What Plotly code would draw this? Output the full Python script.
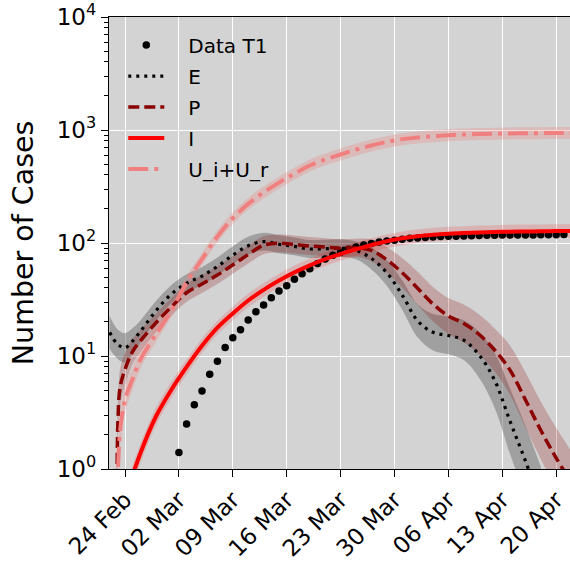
import plotly.graph_objects as go
import pandas as pd

# ---------------- data ----------------
XTICK_DATES = ["2020-02-24", "2020-03-02", "2020-03-09", "2020-03-16", "2020-03-23",
               "2020-03-30", "2020-04-06", "2020-04-13", "2020-04-20"]
X_RANGE = ["2020-02-21 22:05", "2020-04-21 19:00"]
YTICK_VALS = [1, 10, 100, 1000, 10000]
YTICK_TEXT = ["10<sup>0</sup>", "10<sup>1</sup>", "10<sup>2</sup>", "10<sup>3</sup>", "10<sup>4</sup>"]

MAR_ODD = ["2020-03-%02d" % d for d in range(1, 32, 2)]
APR_EVEN = ["2020-04-%02d" % d for d in range(2, 23, 2)]

# Data T1 (daily from 02 Mar)
T1_start = "2020-03-02"
T1_vals = [1.4, 2.5, 3.7, 4.9, 6.9, 9.0, 11.9, 14.5, 17.1, 20.8,
           24.7, 28.3, 32.8, 37.6, 41.9, 47.7, 53.5, 59.3, 66, 72,
           78, 83, 88, 92, 96, 99, 102, 104, 106, 108,
           110, 111, 112, 113, 114, 114.5, 115, 115.5, 116, 116.5,
           117, 117, 117.5, 117.5, 118, 118, 118, 118.5, 118.5, 118.5, 119]

# E
E_dates = ["2020-02-22", "2020-02-23", "2020-02-24", "2020-02-25", "2020-02-26", "2020-02-28"] \
    + MAR_ODD + APR_EVEN[:9]
E_vals = [16.2, 12.8, 11.8, 13.6, 16.5, 25,
          35.2, 44, 51, 62, 78, 94.5, 102.8, 97.5, 93.3, 88.5, 89, 90, 86, 73, 54.5, 34.7,
          20.5, 16.2, 15.2, 13.8, 10.2, 6.1, 2.65, 1.18, 0.5]
E_band = [1.4, 1.35, 1.35, 1.3, 1.25, 1.22,
          1.2, 1.2, 1.2, 1.2, 1.2, 1.2, 1.2, 1.2, 1.2, 1.2, 1.2, 1.2, 1.2, 1.25, 1.3, 1.35,
          1.4, 1.45, 1.47, 1.5, 1.6, 1.75, 1.95, 2.05, 2.1]

# P
P_dates = ["2020-02-22 22:30", "2020-02-23 02:00", "2020-02-23 09:00",
           "2020-02-24", "2020-02-25", "2020-02-26", "2020-02-28"] + MAR_ODD + APR_EVEN
P_vals = [0.3, 2.7, 5.35, 7.6, 11, 13.6, 19.6,
          27.1, 36.3, 43.4, 52, 64, 79, 95.5, 99.6, 97, 94, 92, 90, 91, 86, 71, 54.5,
          39.8, 28.8, 22.6, 19.4, 15.5, 11.3, 7.5, 4.1, 2.2, 1.25, 0.75]
P_band = [1.5, 1.5, 1.45, 1.4, 1.3, 1.25, 1.2,
          1.2, 1.2, 1.2, 1.2, 1.2, 1.2, 1.2, 1.2, 1.2, 1.2, 1.2, 1.2, 1.2, 1.25, 1.3, 1.35,
          1.4, 1.42, 1.44, 1.47, 1.5, 1.55, 1.65, 1.75, 1.8, 1.85, 1.9]

# I
I_dates = ["2020-02-24", "2020-02-26", "2020-02-28"] + MAR_ODD + APR_EVEN
I_vals = [0.55, 1.38, 2.9,
          5.0, 8.0, 12.3, 17.8, 23.8, 31, 38.5, 46.5, 55, 63.5, 72, 80, 88, 96, 103.5, 110,
          115, 118.5, 121, 122.5, 124, 125, 126, 126.5, 127, 127.5, 128]
I_band = [1.25, 1.22, 1.2, 1.18, 1.17, 1.16] + [1.15] * 24

# U_i + U_r
U_dates = ["2020-02-22 23:00", "2020-02-23 09:00", "2020-02-24", "2020-02-25",
           "2020-02-26", "2020-02-28"] + MAR_ODD + APR_EVEN
U_vals = [0.5, 2.2, 4.1, 6.3, 9.3, 15.5,
          25, 45, 72, 114, 166, 222, 280, 342, 410, 485, 548, 607, 670, 730, 785, 830,
          860, 880, 900, 912, 920, 927, 932, 935, 938, 940, 942]
U_band = [1.5, 1.4, 1.3, 1.25, 1.2, 1.17] + [1.13] * 27

SERIES_NAMES = ["Data T1", "E", "P", "I", "U_i+U_r"]

# ---------------- figure ----------------
FONT = "DejaVu Sans"
PAD = "\u00a0\u00a0\u00a0"  # visual gap between legend symbol and label
fig = go.Figure()


def add_band(dates, vals, fac, color):
    lo = [v / f for v, f in zip(vals, fac)]
    hi = [v * f for v, f in zip(vals, fac)]
    fig.add_trace(go.Scatter(x=dates, y=lo, mode="lines", line=dict(width=0, shape="spline"),
                             showlegend=False, hoverinfo="skip"))
    fig.add_trace(go.Scatter(x=dates, y=hi, mode="lines", line=dict(width=0, shape="spline"),
                             fill="tonexty", fillcolor=color, showlegend=False, hoverinfo="skip"))


add_band(E_dates, E_vals, E_band, "rgba(110,110,110,0.5)")
add_band(P_dates, P_vals, P_band, "rgba(139,0,0,0.22)")
add_band(I_dates, I_vals, I_band, "rgba(255,0,0,0.15)")
add_band(U_dates, U_vals, U_band, "rgba(240,128,128,0.3)")

T1_dates = pd.date_range(T1_start, periods=len(T1_vals), freq="D")
fig.add_trace(go.Scatter(x=T1_dates, y=T1_vals, mode="markers", name=PAD + SERIES_NAMES[0],
                         marker=dict(color="black", size=7.5), legendgroup="a"))
fig.add_trace(go.Scatter(x=E_dates, y=E_vals, mode="lines", name=PAD + SERIES_NAMES[1],
                         legendgroup="b",
                         line=dict(color="black", width=3.2, dash="3px,5px", shape="spline")))
fig.add_trace(go.Scatter(x=P_dates, y=P_vals, mode="lines", name=PAD + SERIES_NAMES[2],
                         legendgroup="c",
                         line=dict(color="#8b0000", width=3.5, dash="11px,5px", shape="spline")))
fig.add_trace(go.Scatter(x=I_dates, y=I_vals, mode="lines", name=PAD + SERIES_NAMES[3],
                         legendgroup="d",
                         line=dict(color="red", width=4, shape="spline")))
fig.add_trace(go.Scatter(x=U_dates, y=U_vals, mode="lines", name=PAD + SERIES_NAMES[4],
                         legendgroup="e",
                         line=dict(color="#f08080", width=4, dash="20px,6px,4px,6px",
                                   shape="spline")))

minor_vals = [m * 10 ** k for k in range(4) for m in range(2, 10)]

fig.update_layout(
    width=570, height=562,
    margin=dict(l=109, r=0, t=17, b=93),
    paper_bgcolor="white", plot_bgcolor="#d3d3d3",
    font=dict(family=FONT, color="black"),
    legend=dict(x=0.031, y=0.981, xanchor="left", yanchor="top", bgcolor="rgba(0,0,0,0)",
                font=dict(family=FONT, size=20, color="black"), tracegroupgap=2,
                traceorder="grouped", itemwidth=36),
    xaxis=dict(type="date", range=X_RANGE, tickmode="array", tickvals=XTICK_DATES,
               tickformat="%d %b", tickangle=-45, tickfont=dict(size=23), automargin=False,
               ticks="outside", ticklen=7, tickwidth=1.3, tickcolor="black",
               showline=True, linecolor="black", linewidth=1.3, mirror=True,
               showgrid=True, gridcolor="white", gridwidth=1.3, zeroline=False),
    yaxis=dict(type="log", range=[0, 4], tickmode="array", tickvals=YTICK_VALS,
               ticktext=YTICK_TEXT, tickfont=dict(size=23), automargin=False,
               ticks="outside", ticklen=7, tickwidth=1.3, tickcolor="black",
               showline=True, linecolor="black", linewidth=1.3, mirror=False,
               showgrid=True, gridcolor="white", gridwidth=1.3, zeroline=False,
               minor=dict(tickmode="array", tickvals=minor_vals, ticks="outside",
                          ticklen=4, tickwidth=1, tickcolor="black", showgrid=False)),
)

fig.add_annotation(text="Number of Cases", xref="paper", yref="paper",
                   x=-0.186, y=0.5, xanchor="center", yanchor="middle", textangle=-90,
                   showarrow=False, font=dict(family=FONT, size=28.5, color="black"))

fig.write_html("out.html")
